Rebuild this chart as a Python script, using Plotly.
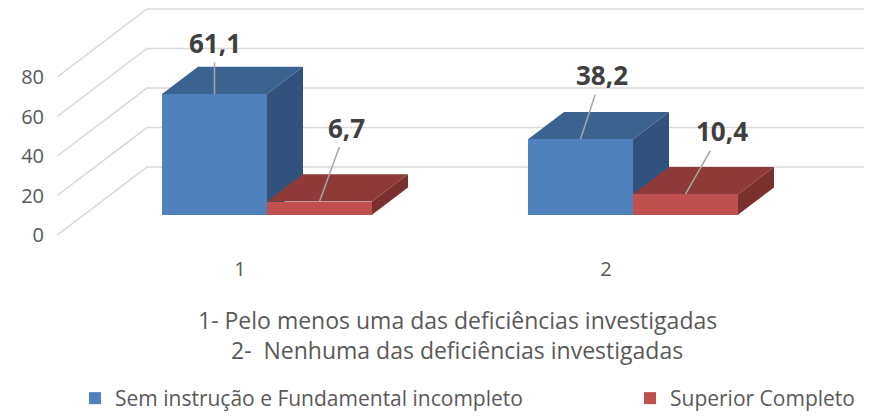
import plotly.graph_objects as go

# ---------------- data ----------------
categories = ["1", "2"]
series_names = ["Sem instrução e Fundamental incompleto", "Superior Completo"]
sem_instrucao = [61.1, 38.2]
superior = [6.7, 10.4]
y_ticks = [0, 20, 40, 60, 80]
notes = ["1- Pelo menos uma das deficiências investigadas",
         "2-  Nenhuma das deficiências investigadas"]

# ---------------- styling / geometry ----------------
FONT = "Open Sans"
TXT = "#595959"
front_cols = ["#4f81bd", "#c0504d"]
top_cols = ["#3b6390", "#8e3a38"]
side_cols = ["#31527d", "#7a302e"]
GRID = "#d9d9d9"

DX = 90 / 366      # full floor depth, in category units
DY = 34.5          # full floor depth, in value units
D_FRONT, D_BACK = 0.30, 0.70
BW = 105 / 366     # bar width in category units
sx = D_FRONT * DX
sy = D_FRONT * DY
ddx = (D_BACK - D_FRONT) * DX
ddy = (D_BACK - D_FRONT) * DY
X_LEFT = -0.5
X_MAX = (872 - 240) / 366

# page offset (browser body margin)
OFF = 8
W, H = 872 - OFF, 419 - OFF
L = 57 - OFF                 # plot left edge (page x 57)
PB = 258 - OFF               # plot bottom (page y 258)
B = H - PB
PW = W - L
PH = PB
Y_TOP = (238 - OFF) / 2      # value at page y = OFF
Y_BOT = (238 - 258) / 2


def px(page_x):
    return (page_x - 57) / PW


def py(page_y):
    return (258 - page_y) / PH


fig = go.Figure()
shapes = []

# walls / gridlines
for v in y_ticks:
    path = f"M{X_LEFT},{v} L{X_LEFT + DX},{v + DY} L{X_MAX},{v + DY}"
    shapes.append(dict(type="path", path=path, xref="x", yref="y", layer="below",
                       line=dict(color=GRID, width=1.5)))

series = [sem_instrucao, superior]
offsets = [-BW, 0.0]
xpos = list(range(len(categories)))

# depth faces (drawn below bars, in painter's order)
for ci in xpos:
    for si, vals in enumerate(series):
        x0 = ci + sx + offsets[si]
        x1 = x0 + BW
        b = sy
        t = sy + vals[ci]
        side = (f"M{x1},{b} L{x1},{t} L{x1 + ddx},{t + ddy} L{x1 + ddx},{b + ddy} Z")
        top = (f"M{x0},{t} L{x1},{t} L{x1 + ddx},{t + ddy} L{x0 + ddx},{t + ddy} Z")
        shapes.append(dict(type="path", path=side, xref="x", yref="y", layer="below",
                           fillcolor=side_cols[si], line=dict(width=0)))
        shapes.append(dict(type="path", path=top, xref="x", yref="y", layer="below",
                           fillcolor=top_cols[si], line=dict(width=0)))

legend_ids = ["legend", "legend2"]
for si, vals in enumerate(series):
    fig.add_trace(go.Bar(
        x=[c + sx for c in xpos], y=vals, base=sy, width=BW, offset=offsets[si],
        name=series_names[si], legend=legend_ids[si],
        marker=dict(color=front_cols[si], line=dict(width=0)),
        hoverinfo="skip"))

# data labels with leader lines
label_offsets = [[(0, -51), (21, -64)], [(27, -74), (36, -63)]]
annotations = []
for si, vals in enumerate(series):
    for ci in xpos:
        xc = ci + sx + offsets[si] + BW / 2
        ax, ay = label_offsets[si][ci]
        annotations.append(dict(
            x=xc, y=sy + vals[ci], xref="x", yref="y",
            text=f"{vals[ci]:.1f}".replace(".", ","),
            showarrow=True, arrowhead=0, arrowwidth=1.5, arrowcolor="#a6a6a6",
            ax=ax, ay=ay, standoff=0,
            font=dict(family=FONT, size=26, color="#404040", weight="bold")))

note_y = [324, 354]
for txt, ny in zip(notes, note_y):
    annotations.append(dict(text=txt, xref="paper", yref="paper",
                            x=px(457), y=py(ny),
                            xanchor="center", yanchor="middle", showarrow=False,
                            font=dict(family=FONT, size=23, color=TXT)))

leg_common = dict(orientation="h", xanchor="left", yanchor="middle",
                  y=py(404), font=dict(family=FONT, size=21, color=TXT),
                  bgcolor="rgba(0,0,0,0)")

fig.update_layout(
    width=W, height=H,
    margin=dict(l=L, r=0, t=0, b=B),
    paper_bgcolor="white", plot_bgcolor="white",
    barmode="overlay", bargap=0,
    shapes=shapes, annotations=annotations,
    xaxis=dict(range=[X_LEFT, X_MAX], tickvals=xpos, ticktext=categories,
               showgrid=False, zeroline=False, showline=False, ticks="",
               automargin=False,
               tickfont=dict(family=FONT, size=20, color=TXT)),
    yaxis=dict(range=[Y_BOT, Y_TOP], tickvals=y_ticks, showgrid=False, zeroline=False,
               showline=False, ticks="", ticklabelstandoff=12, automargin=False,
               tickfont=dict(family=FONT, size=20, color=TXT)),
    legend=dict(x=px(75), **leg_common),
    legend2=dict(x=px(630), **leg_common),
    showlegend=True,
)

fig.write_html("out.html")
